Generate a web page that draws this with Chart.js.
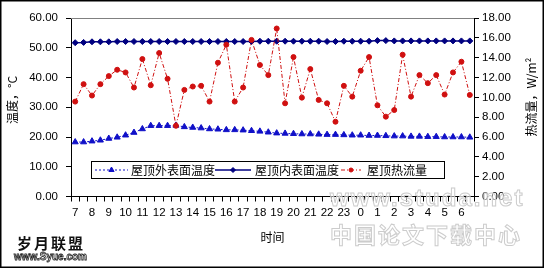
<!DOCTYPE html>
<html>
<head>
<meta charset="utf-8">
<script src="https://cdn.jsdelivr.net/npm/chart.js@4.4.1/dist/chart.umd.min.js"></script>
<style>
  body { margin: 0; background: #fff; }
  #wrap { position: relative; width: 544px; height: 269px; }
  .mark { position: absolute; white-space: nowrap; pointer-events: none; }
  #logo1 { left: 17px; top: 232px; font: bold 15px "Noto Sans CJK SC"; letter-spacing: 2px; color: #111; }
  #logo2 { left: 14px; top: 251px; font: bold 10px "Liberation Sans"; color: #fff; -webkit-text-stroke: 0.8px #222; }
  #wm1 { left: 330px; top: 184px; font: bold 24px "Liberation Sans"; letter-spacing: 2px; color: rgba(255,255,255,0.5); -webkit-text-stroke: 1px #cccccc; }
  #wm2 { left: 330px; top: 217px; font: bold 22px "Noto Sans CJK SC"; letter-spacing: 2px; color: rgba(255,255,255,0.5); -webkit-text-stroke: 1px #cccccc; }
</style>
</head>
<body>
<div id="wrap">
  <canvas id="chart" width="544" height="269"></canvas>
  <div class="mark" id="logo1">岁月联盟</div>
  <div class="mark" id="logo2">www.Syue.com</div>
  <div class="mark" id="wm1">www.studa.net</div>
  <div class="mark" id="wm2">中国论文下载中心</div>
</div>
<script>
// hour labels, one every two half-hour readings
const hours = ['7','8','9','10','11','12','13','14','15','16','17','18','19','20','21','22','23','0','1','2','3','4','5','6']

// roof outer surface temperature (°C)
const outerTemp = [18.3, 18.3, 18.6, 18.9, 19.5, 19.9, 20.6, 21.5, 22.7, 23.8, 23.8, 23.8,
    23.9, 23.4, 23.2, 23.0, 22.7, 22.6, 22.4, 22.4, 22.3, 22.1, 21.9, 21.6,
    21.3, 21.2, 21.1, 21.0, 21.0, 20.9, 20.8, 20.8, 20.7, 20.6, 20.6, 20.5,
    20.5, 20.4, 20.3, 20.3, 20.2, 20.2, 20.1, 20.1, 20.0, 20.0, 20.0, 19.9]

// roof inner surface temperature (°C)
const innerTemp = [51.7, 51.8, 52.0, 52.0, 52.0, 52.1, 52.1, 52.1, 52.1, 52.1, 52.1, 52.1,
    52.1, 52.1, 52.1, 52.1, 52.1, 52.1, 52.1, 52.1, 52.1, 52.1, 52.2, 52.2,
    52.2, 52.2, 52.2, 52.2, 52.2, 52.2, 52.1, 52.1, 52.2, 52.2, 52.2, 52.2,
    52.4, 52.4, 52.3, 52.3, 52.3, 52.3, 52.3, 52.3, 52.3, 52.3, 52.3, 52.3]

// roof heat flux (W/m2)
const heatFlux = [9.57, 11.33, 10.18, 11.33, 12.14, 12.78, 12.51, 10.99, 13.86, 11.22, 14.47, 11.87,
    7.13, 10.75, 11.09, 11.16, 9.57, 13.49, 15.31, 9.57, 10.99, 15.79, 13.26, 12.24,
    16.94, 9.40, 14.06, 9.97, 12.85, 9.74, 9.40, 7.54, 11.16, 10.07, 12.68, 14.06,
    9.20, 8.05, 8.72, 14.30, 10.07, 12.24, 11.43, 12.24, 10.28, 12.51, 13.59, 10.24]

const seriesNames = ['屋顶外表面温度', '屋顶内表面温度', '屋顶热流量']

// two readings per hour
let labels = []
for(let h of hours){
    labels.push(h + ':00')
    labels.push(h + ':30')
}

const CJK = '"Noto Sans CJK SC", sans-serif'
const NUM = '"Liberation Sans", Arial, sans-serif'

const extras = {
    id: 'extras',
    beforeDraw(chart){
        let ctx = chart.ctx
        ctx.save()
        ctx.fillStyle = '#fff'
        ctx.fillRect(0, 0, chart.width, chart.height)
        ctx.restore()
    },
    afterDraw(chart){
        let ctx = chart.ctx
        let area = chart.chartArea
        ctx.save()
        // grey top edge of the plot area
        ctx.strokeStyle = '#808080'
        ctx.lineWidth = 1
        ctx.beginPath()
        ctx.moveTo(area.left, Math.round(area.top) + 0.5)
        ctx.lineTo(area.right, Math.round(area.top) + 0.5)
        ctx.stroke()

        // axis titles, both read bottom to top
        ctx.fillStyle = '#000'
        ctx.font = '12px ' + CJK
        ctx.textAlign = 'center'
        ctx.textBaseline = 'middle'
        ctx.save()
        ctx.translate(12, 100)
        ctx.rotate(-Math.PI / 2)
        ctx.fillText('温度，°C', 0, 0)
        ctx.restore()
        ctx.save()
        ctx.translate(531, 97)
        ctx.rotate(-Math.PI / 2)
        ctx.fillText('热流量，W/m²', 0, 0)
        ctx.restore()

        // legend box inside the plot
        let box = {x: 91.5, y: 161.5, w: 353, h: 17}
        ctx.fillStyle = '#fff'
        ctx.fillRect(box.x, box.y, box.w, box.h)
        ctx.strokeStyle = '#000'
        ctx.lineWidth = 1
        ctx.strokeRect(box.x, box.y, box.w, box.h)
        let cy = box.y + box.h / 2
        let items = [
            {ds: 0, x1: 95, x2: 128, tx: 131},
            {ds: 1, x1: 215, x2: 251, tx: 255},
            {ds: 2, x1: 341, x2: 361, tx: 367}
        ]
        for(let item of items){
            let ds = chart.data.datasets[item.ds]
            ctx.save()
            ctx.strokeStyle = ds.borderColor
            ctx.lineWidth = ds.borderWidth
            ctx.setLineDash(ds.borderDash || [])
            ctx.beginPath()
            ctx.moveTo(item.x1, cy)
            ctx.lineTo(item.x2, cy)
            ctx.stroke()
            ctx.restore()
            // drawPoint uses whatever fill / stroke is current
            ctx.save()
            ctx.fillStyle = ds.backgroundColor
            ctx.strokeStyle = ds.borderColor
            ctx.lineWidth = 1
            ctx.setLineDash([])
            Chart.helpers.drawPoint(ctx, {
                pointStyle: ds.pointStyle,
                radius: ds.pointRadius - 0.5,
                borderWidth: 1,
                rotation: 0
            }, (item.x1 + item.x2) / 2, cy)
            ctx.restore()
            ctx.fillStyle = '#000'
            ctx.textAlign = 'left'
            ctx.font = '12px ' + CJK
            ctx.fillText(ds.label, item.tx, cy)
        }
        ctx.restore()

        // outer frame of the picture
        ctx.save()
        ctx.strokeStyle = '#000'
        ctx.lineWidth = 1.5
        ctx.strokeRect(0.75, 0.75, chart.width - 1.5, chart.height - 2.5)
        ctx.restore()
    }
}

let chartCtx = document.getElementById('chart')
new Chart(chartCtx, {
    type: 'line',
    data: {
        labels: labels,
        datasets: [{
            label: seriesNames[0],
            data: outerTemp,
            yAxisID: 'y',
            borderColor: '#1010c8',
            backgroundColor: '#1010c8',
            borderWidth: 1,
            borderDash: [2, 2],
            pointStyle: 'triangle',
            pointRadius: 3.5,
            pointBorderWidth: 1,
            order: 2
        }, {
            label: seriesNames[1],
            data: innerTemp,
            yAxisID: 'y',
            borderColor: '#000080',
            backgroundColor: '#000080',
            borderWidth: 1.5,
            pointStyle: 'rectRot',
            pointRadius: 3,
            pointBorderWidth: 1,
            order: 1
        }, {
            label: seriesNames[2],
            data: heatFlux,
            yAxisID: 'y1',
            borderColor: '#d01010',
            backgroundColor: '#d01010',
            borderWidth: 1,
            borderDash: [4, 2, 1, 2],
            pointStyle: 'circle',
            pointRadius: 2.5,
            pointBorderWidth: 1,
            order: 0
        }]
    },
    options: {
        responsive: false,
        animation: false,
        devicePixelRatio: 1,
        layout: {padding: {top: 18, left: 0, right: 0, bottom: 0}},
        plugins: {
            legend: {display: false},
            tooltip: {enabled: false}
        },
        scales: {
            x: {
                type: 'category',
                offset: true,
                afterFit(scale){ scale.height = 72.5 },
                grid: {
                    offset: true,
                    drawOnChartArea: false,
                    drawTicks: true,
                    tickLength: 5,
                    color: '#000'
                },
                border: {display: true, color: '#000', width: 1},
                ticks: {
                    autoSkip: false,
                    maxRotation: 0,
                    padding: 4,
                    color: '#000',
                    font: {family: NUM, size: 11.5},
                    callback: function(value, index){
                        return index % 2 == 0 ? hours[index / 2] : ''
                    }
                },
                title: {
                    display: true,
                    text: '时间',
                    color: '#000',
                    font: {family: CJK, size: 12},
                    padding: {top: 0, bottom: 24}
                }
            },
            y: {
                position: 'left',
                min: 0,
                max: 60,
                afterFit(scale){ scale.width = 71 },
                grid: {drawOnChartArea: false, tickLength: 5, color: '#000'},
                border: {display: true, color: '#000', width: 1},
                ticks: {
                    stepSize: 10,
                    padding: 8,
                    color: '#000',
                    font: {family: NUM, size: 11.5},
                    callback: v => v.toFixed(2)
                }
            },
            y1: {
                position: 'right',
                min: 0,
                max: 18,
                afterFit(scale){ scale.width = 70 },
                grid: {drawOnChartArea: false, tickLength: 5, color: '#000'},
                border: {display: true, color: '#000', width: 1},
                ticks: {
                    stepSize: 2,
                    padding: 3,
                    color: '#000',
                    font: {family: NUM, size: 11.5},
                    callback: v => v.toFixed(2)
                }
            }
        }
    },
    plugins: [extras]
})
</script>
</body>
</html>
